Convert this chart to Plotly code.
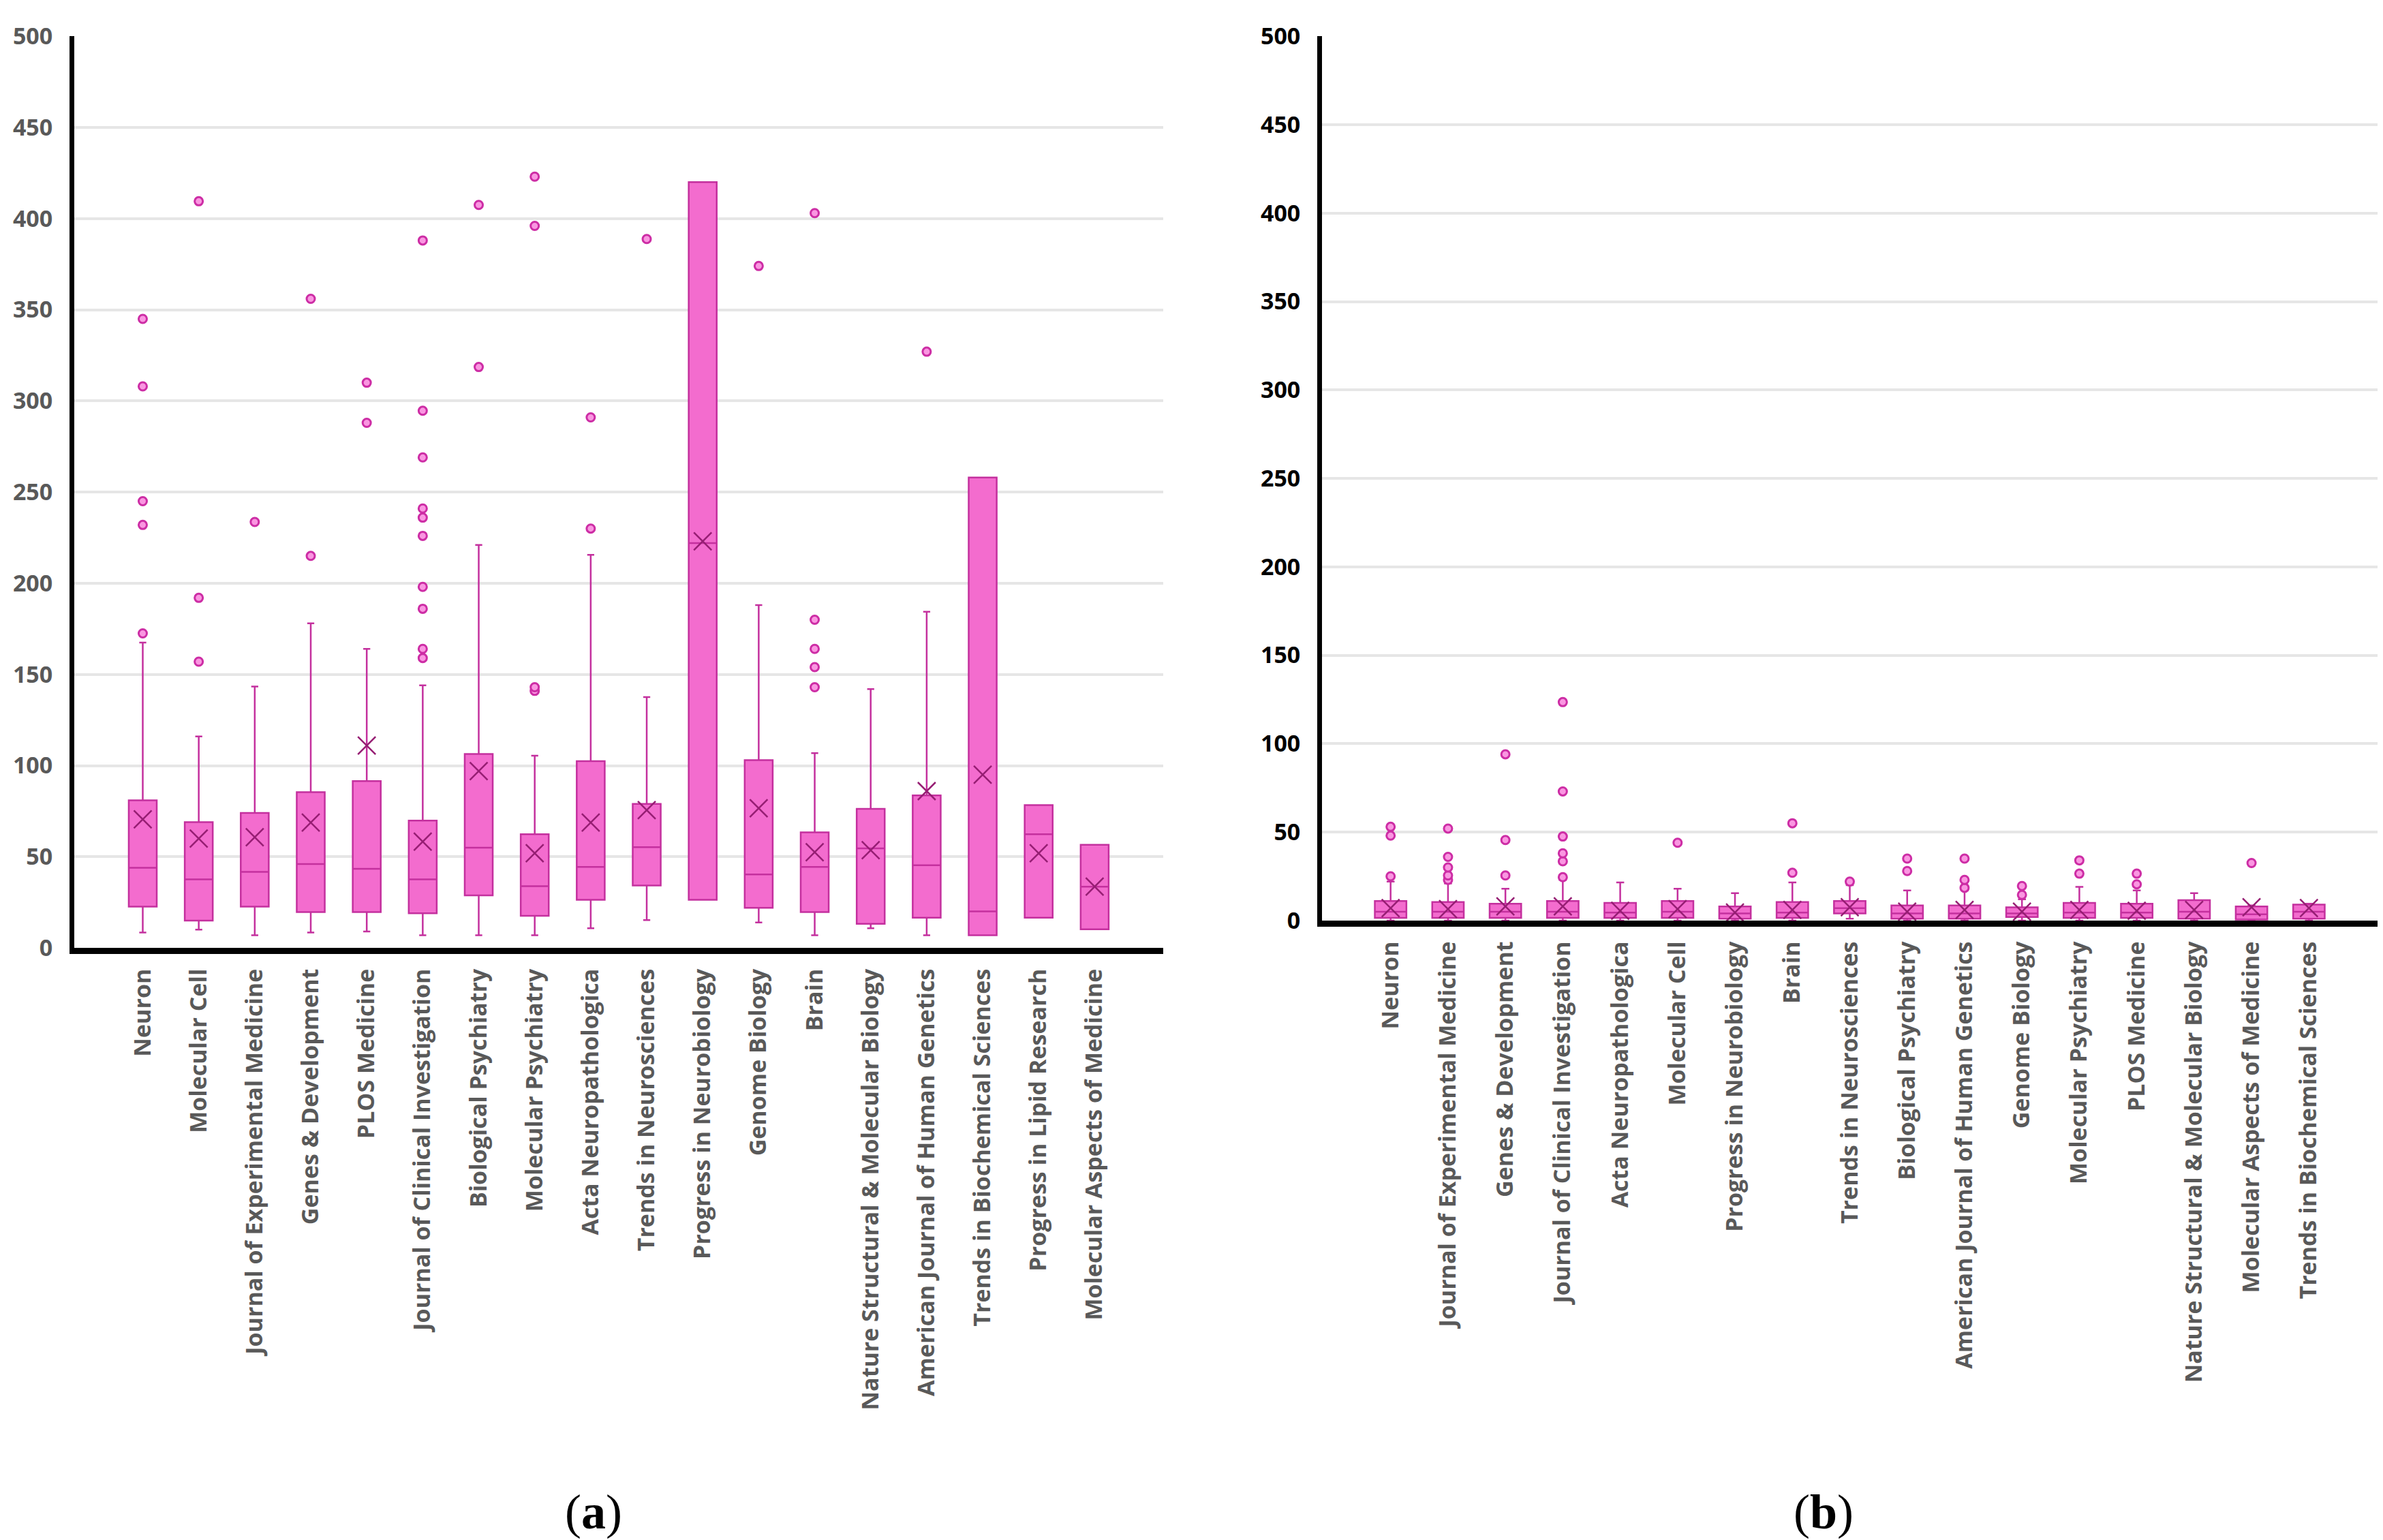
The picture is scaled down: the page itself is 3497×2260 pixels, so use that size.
import plotly.graph_objects as go

# panel (a)
cats_a = ["Neuron", "Molecular Cell", "Journal of Experimental Medicine", "Genes & Development",
          "PLOS Medicine", "Journal of Clinical Investigation", "Biological Psychiatry",
          "Molecular Psychiatry", "Acta Neuropathologica", "Trends in Neurosciences",
          "Progress in Neurobiology", "Genome Biology", "Brain", "Nature Structural & Molecular Biology",
          "American Journal of Human Genetics", "Trends in Biochemical Sciences",
          "Progress in Lipid Research", "Molecular Aspects of Medicine"]
q1_a = [22.7, 15, 22.7, 19.7, 19.7, 19, 28.8, 17.6, 26.4, 34.2, 26.4, 22, 19.7, 13.2, 16.6, 7, 16.6, 10.2]
med_a = [44, 37.6, 41.7, 46, 43.4, 37.6, 55, 33.9, 44.4, 55.3, 222, 40.3, 44.4, 54.6, 45.4, 20, 62.4, 33.6]
q3_a = [81, 69, 74, 85.4, 91.5, 69.8, 106.4, 62.4, 102.4, 79, 420, 103, 63.4, 76.3, 83.7, 258, 78.3, 56.6]
lo_a = [8.5, 10, 7, 8.5, 9, 7, 7, 7, 10.8, 15.3, 26.4, 14, 7, 10.8, 7, 7, 16.6, 10.2]
hi_a = [167.5, 116, 143.4, 178, 164, 144, 221, 105.4, 215.6, 137.6, 420, 188, 106.8, 142, 184.4, 258, 78.3, 56.6]
mean_a = [70.5, 60, 60.7, 68.8, 111, 58.3, 97, 51.9, 68.8, 75.6, 223, 76.6, 52.5, 53.6, 86, 95, 51.9, 33.6]
out_a = [
    [172.5, 232, 245, 308, 345],
    [157, 192, 409.5],
    [233.6],
    [215, 356],
    [288, 310],
    [159, 164, 186, 198, 226, 236, 241, 269, 294.6, 388],
    [318.6, 407.5],
    [141, 143, 396, 423],
    [230, 291],
    [388.8],
    [],
    [374],
    [143, 154, 164, 180, 403],
    [],
    [327],
    [],
    [],
    [],
]

# panel (b)
cats_b = ["Neuron", "Journal of Experimental Medicine", "Genes & Development",
          "Journal of Clinical Investigation", "Acta Neuropathologica", "Molecular Cell",
          "Progress in Neurobiology", "Brain", "Trends in Neurosciences", "Biological Psychiatry",
          "American Journal of Human Genetics", "Genome Biology", "Molecular Psychiatry",
          "PLOS Medicine", "Nature Structural & Molecular Biology", "Molecular Aspects of Medicine",
          "Trends in Biochemical Sciences"]
q1_b = [1.5, 1.5, 1.5, 1.5, 1.5, 1.5, 1, 1.5, 4, 1, 1, 2, 1.5, 1.5, 1, 0.5, 1]
med_b = [5, 5, 5, 5, 4.5, 5, 4, 4.5, 7, 4, 4, 4, 4.5, 4.5, 5, 3.5, 5]
q3_b = [11, 10.5, 9.5, 11, 10, 11, 8, 10.5, 11, 8.5, 8.5, 7.5, 10, 9.5, 11.5, 8, 9]
lo_b = [0, 0, 0, 0, 0, 0, 0, 0, 1, 0, 0, 0, 0, 0, 0, 0, 0]
hi_b = [22, 21, 18, 23, 21.5, 18, 15.5, 21.5, 20, 17, 17, 12, 19, 17, 15.5, 8.5, 9.5]
mean_b = [7, 6.5, 8, 8, 5.5, 6.5, 4.5, 6, 7.5, 5, 6, 5, 6, 5.5, 6, 7.5, 7]
out_b = [
    [25, 48, 53],
    [23, 25.5, 30, 36, 52],
    [25.5, 45.5, 94],
    [24.5, 33.5, 38, 47.5, 73, 123.5],
    [],
    [44],
    [],
    [27, 55],
    [22],
    [28, 35],
    [18.5, 23, 35],
    [14.5, 19.5],
    [26.5, 34],
    [20.5, 26.5],
    [],
    [32.5],
    [],
]

FILL = "rgb(243,108,206)"
EDGE = "rgb(196,48,158)"
MEANC = "rgb(150,30,115)"

fig = go.Figure()


def add_panel(cats, q1, med, q3, lo, hi, mean, outs, xa, ya, w):
    fig.add_trace(go.Box(
        x=cats, q1=q1, median=med, q3=q3, lowerfence=lo, upperfence=hi,
        boxpoints=False, width=w, whiskerwidth=0.25,
        fillcolor=FILL, line=dict(color=EDGE, width=2.5),
        xaxis=xa, yaxis=ya, showlegend=False,
    ))
    fig.add_trace(go.Scatter(
        x=cats, y=mean, mode="markers",
        marker=dict(symbol="x-thin", size=26, line=dict(width=2.5, color=MEANC)),
        xaxis=xa, yaxis=ya, showlegend=False,
    ))
    ox, oy = [], []
    for c, vals in zip(cats, outs):
        for v in vals:
            ox.append(c)
            oy.append(v)
    fig.add_trace(go.Scatter(
        x=ox, y=oy, mode="markers",
        marker=dict(symbol="circle", size=12, color="rgb(250,150,225)",
                    line=dict(width=3, color="rgb(205,45,165)")),
        xaxis=xa, yaxis=ya, showlegend=False,
    ))


add_panel(cats_a, q1_a, med_a, q3_a, lo_a, hi_a, mean_a, out_a, "x", "y", 0.5)
add_panel(cats_b, q1_b, med_b, q3_b, lo_b, hi_b, mean_b, out_b, "x2", "y2", 0.55)

xcommon = dict(type="category", tickangle=-90, showgrid=False, ticks="", ticklabelstandoff=8,
               showline=True, linecolor="black", linewidth=9, zeroline=False, automargin=False)
ycommon = dict(range=[0, 500], dtick=50, showgrid=True, gridcolor="rgb(230,230,230)", gridwidth=4,
               showline=True, linecolor="black", linewidth=7, zeroline=False, ticks="",
               ticklabelstandoff=18, automargin=False)

fig.update_layout(
    width=3497, height=2260,
    margin=dict(l=0, r=0, t=0, b=0),
    paper_bgcolor="white", plot_bgcolor="white",
    font=dict(family="Open Sans", size=32, color="rgb(89,89,89)"),
    xaxis=dict(xcommon, domain=[0.0289, 0.4858], anchor="y",
               categoryorder="array", categoryarray=cats_a,
               tickfont=dict(family="Open Sans", size=34, color="rgb(89,89,89)", weight="bold")),
    yaxis=dict(ycommon, domain=[0.388, 0.980], anchor="x",
               tickfont=dict(family="Open Sans", size=34, color="rgb(89,89,89)", weight="bold")),
    xaxis2=dict(xcommon, domain=[0.5525, 0.9954], anchor="y2",
                categoryorder="array", categoryarray=cats_b,
                tickfont=dict(family="Open Sans", size=34, color="rgb(89,89,89)", weight="bold")),
    yaxis2=dict(ycommon, domain=[0.4058, 0.980], anchor="x2",
                tickfont=dict(family="Open Sans", size=34, color="black", weight="bold")),
    annotations=[
        dict(text="(<b>a</b>)", x=0.2468, y=0.0217, xref="paper", yref="paper", showarrow=False,
             xanchor="center", yanchor="middle",
             font=dict(family="Liberation Serif", size=72, color="black")),
        dict(text="(<b>b</b>)", x=0.763, y=0.0217, xref="paper", yref="paper", showarrow=False,
             xanchor="center", yanchor="middle",
             font=dict(family="Liberation Serif", size=72, color="black")),
    ],
)

fig.write_html("out.html")
